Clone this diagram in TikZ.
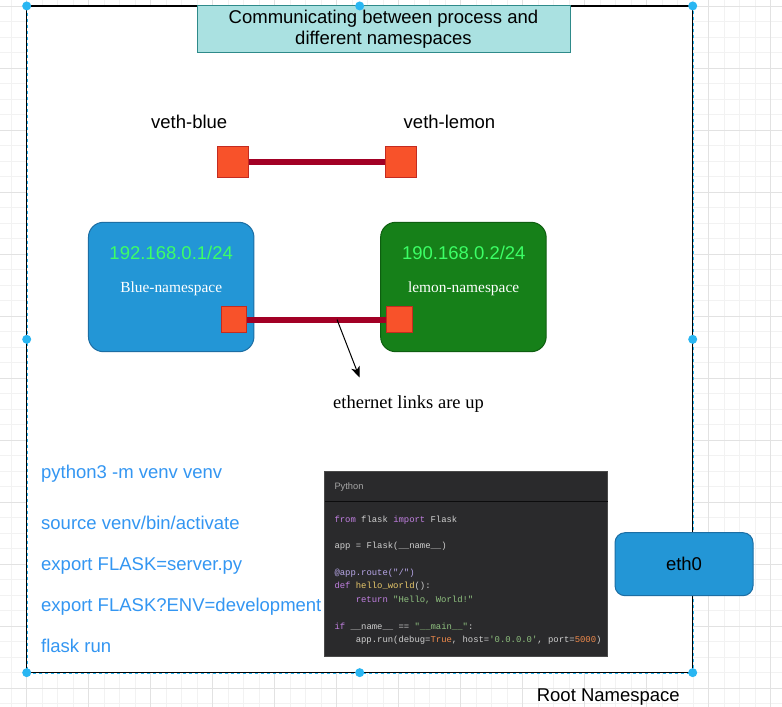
\documentclass[tikz,border=0pt]{standalone}
\usepackage{fontspec}
\setmainfont{Liberation Sans}
\setmonofont{Liberation Mono}
\newfontfamily\timesfont{Liberation Serif}
\usepackage{tikz}
\usetikzlibrary{arrows.meta,positioning}

\definecolor{gridminor}{HTML}{F2F2F2}
\definecolor{gridmajor}{HTML}{E2E2E2}
\definecolor{selblue}{HTML}{29B6F2}
\definecolor{titlefill}{HTML}{AAE1E1}
\definecolor{titleline}{HTML}{2E8A8A}
\definecolor{nsblue}{HTML}{2396D6}
\definecolor{nsblueline}{HTML}{1C6EA4}
\definecolor{nsgreen}{HTML}{168019}
\definecolor{nsgreenline}{HTML}{0E5E10}
\definecolor{ipgreen}{HTML}{3CFF66}
\definecolor{portfill}{HTML}{F8522A}
\definecolor{portline}{HTML}{C42B20}
\definecolor{linkred}{HTML}{A20025}
\definecolor{cmdblue}{HTML}{3396F2}
\definecolor{codebg}{HTML}{2A2A2C}
\definecolor{codeline}{HTML}{4A4A4A}
\definecolor{codeplain}{HTML}{CFCFCF}
\definecolor{codekwc}{HTML}{C07FE0}
\definecolor{codefnc}{HTML}{E8C86A}
\definecolor{codestrc}{HTML}{8FC17F}
\definecolor{codenumc}{HTML}{F08A4B}
\definecolor{codedecoc}{HTML}{B7A6E8}

\newcommand\sanslarge{\fontsize{18.5}{21.5}\selectfont}
\newcommand\serifsmall{\timesfont\fontsize{15.4}{18}\selectfont}
\newcommand\seriflarge{\timesfont\fontsize{18.5}{22}\selectfont}
\newcommand\codesize{\ttfamily\fontsize{8.9}{10}\selectfont}
\newcommand\headsize{\fontsize{9.3}{11}\selectfont}
\newcommand\codekw[1]{\textcolor{codekwc}{#1}}
\newcommand\codefn[1]{\textcolor{codefnc}{#1}}
\newcommand\codestr[1]{\textcolor{codestrc}{#1}}
\newcommand\codenum[1]{\textcolor{codenumc}{#1}}
\newcommand\codedeco[1]{\textcolor{codedecoc}{#1}}

\begin{document}
\begin{tikzpicture}[x=1pt,y=-1pt]
			\tikzstyle{Minor}	= [gridminor, line width=0.7pt]
			\tikzstyle{Major}	= [gridmajor, line width=0.7pt]
			\tikzstyle{Root}	= [fill=white, outer sep=0pt, minimum width=666pt, minimum height=666.7pt]
			\tikzstyle{RootLine}	= [black, line width=1.3pt]
			\tikzstyle{SelLine}	= [selblue, line width=0.9pt, dash pattern=on 3pt off 3pt]
			\tikzstyle{Handle}	= [selblue]
			\tikzstyle{Title}	= [draw=titleline, fill=titlefill, line width=1pt, align=center, font=\sanslarge, inner sep=0pt, minimum width=373pt, minimum height=46.7pt]
			\tikzstyle{Label}	= [font=\sanslarge, inner sep=0pt, anchor=base]
			\tikzstyle{Port}	= [draw=portline, fill=portfill, line width=1pt, minimum size=31pt, inner sep=0pt]
			\tikzstyle{SmallPort}	= [Port, minimum size=25.5pt]
			\tikzstyle{Link}	= [linkred, line width=6pt]
			\tikzstyle{NS}		= [rounded corners=15pt, line width=1pt, minimum width=165.5pt, minimum height=129.4pt, inner sep=0pt]
			\tikzstyle{BlueNS}	= [NS, draw=nsblueline, fill=nsblue]
			\tikzstyle{GreenNS}	= [NS, draw=nsgreenline, fill=nsgreen]
			\tikzstyle{IP}		= [Label, ipgreen]
			\tikzstyle{NSName}	= [font=\serifsmall, white, inner sep=0pt, anchor=base]
			\tikzstyle{Pointer}	= [black, line width=1pt, -{Stealth[length=11pt, width=9pt, inset=3pt]}]
			\tikzstyle{Cmd}		= [Label, cmdblue, anchor=base west]
			\tikzstyle{CodeBox}	= [draw=codeline, fill=codebg, line width=1pt, minimum width=283.3pt, minimum height=184.7pt, inner sep=0pt]
			\tikzstyle{Code}	= [font=\codesize, codeplain, inner sep=0pt, anchor=base west]
			\tikzstyle{Eth}		= [draw=nsblueline, fill=nsblue, rounded corners=10pt, line width=1pt, minimum width=138pt, minimum height=63pt, font=\sanslarge, inner sep=0pt]
			
			\useasboundingbox (0,0) rectangle (782,707);
			
			% grid behind the canvas
			\foreach \i in {0,...,51}
				\draw [Minor] (-4.3+15.5*\i,0) -- (-4.3+15.5*\i,707);
			\foreach \j in {0,...,46}
				\draw [Minor] (0,-9.5+15.5*\j) -- (782,-9.5+15.5*\j);
			\foreach \i in {0,...,12}
				\draw [Major] (26.7+62*\i,0) -- (26.7+62*\i,707);
			\foreach \j in {0,...,11}
				\draw [Major] (0,6+62*\j) -- (782,6+62*\j);
			
			\node (root) at (359.7,339.3) [Root] {};
			\draw [SelLine] ([shift={(0.9pt,-0.9pt)}]root.north west) rectangle ([shift={(0.9pt,-0.9pt)}]root.south east);
			\draw [RootLine] (root.north west) rectangle (root.south east);
			\node (rootlabel) at (608.3,701.7) [Label] {Root Namespace};
			
			\node (title) at (383.5,29.3) [Title] {Communicating between process and\\different namespaces};
			
			% veth pair
			\node (vbluelabel) at (189.2,128.3) [Label] {veth-blue};
			\node (vlemonlabel) at (449.5,128.3) [Label] {veth-lemon};
			\node (vblue) at (233.3,161.5) [Port] {};
			\node (vlemon) at (401.2,161.5) [Port] {};
			\draw [Link] (vblue) -- (vlemon);
			
			% namespaces
			\node (bluens) at (171.2,287) [BlueNS] {};
			\node (lemonns) at (463.4,287) [GreenNS] {};
			\node (blueip) at (171.2,259) [IP] {192.168.0.1/24};
			\node (lemonip) at (463.8,259) [IP] {190.168.0.2/24};
			\node (bluename) at (171.2,292.3) [NSName] {Blue-namespace};
			\node (lemonname) at (463.6,292.3) [NSName] {lemon-namespace};
			\node (blueport) at (234,319.5) [SmallPort] {};
			\node (lemonport) at (399.7,319.5) [SmallPort] {};
			\draw [Link] (blueport) -- (lemonport);
			
			\coordinate (tap) at (337,319.5);
			\coordinate (tip) at (359.5,377.5);
			\draw [Pointer] (tap) -- (tip);
			\node (linklabel) at (408.5,408.3) [font=\seriflarge, inner sep=0pt, anchor=base] {ethernet links are up};
			
			% shell commands
			\foreach \y/\t [count=\k] in {478.3/{python3 -m venv venv}, 529.3/{source venv/bin/activate}, 570.7/{export FLASK=server.py}, 611.7/{export FLASK?ENV=development}, 652.7/{flask run}}
				\node (cmd\k) at (41,\y) [Cmd] {\t};
			
			% code snippet
			\node (code) at (466.3,564.3) [CodeBox] {};
			\draw [black!70!codebg, line width=1.2pt] (325.2,501.7) -- (607.5,501.7);
			\node (codehead) at (334.3,489) [font=\headsize, inner sep=0pt, anchor=base west, black!35!white] {Python};
			\node (line1) at (334.3,522.3) [Code] {\codekw{from} flask \codekw{import} Flask};
			\node (line2) at (334.3,548.3) [Code] {app = Flask(\_\_name\_\_)};
			\node (line3) at (334.3,575.7) [Code] {\codedeco{@app.route("/")}};
			\node (line4) at (334.3,588.7) [Code] {\codekw{def} \codefn{hello\_world}():};
			\node (line5) at (355.6,602) [Code] {\codekw{return} \codestr{"Hello, World!"}};
			\node (line6) at (334.3,629) [Code] {\codekw{if} \_\_name\_\_ == \codestr{"\_\_main\_\_"}:};
			\node (line7) at (355.6,642) [Code] {app.run(debug=\codenum{True}, host=\codestr{'0.0.0.0'}, port=\codenum{5000})};
			
			\node (eth) at (684,564.2) [Eth] {eth0};
			
			\foreach \a in {north west, north, north east, west, east, south west, south, south east}
				\fill [Handle] (root.\a) circle (4.5);
		\end{tikzpicture}
\end{document}
